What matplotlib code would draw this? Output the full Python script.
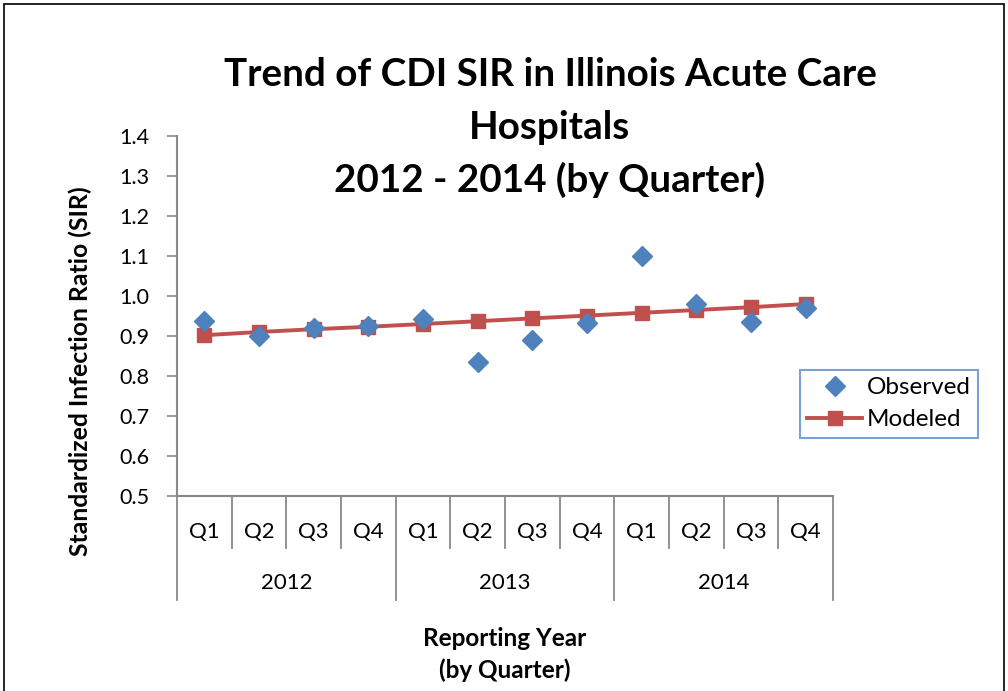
import matplotlib
matplotlib.use("Agg")
import matplotlib.pyplot as plt
from matplotlib.patches import Rectangle
from matplotlib.lines import Line2D
import matplotlib.transforms as mtransforms

plt.rcParams['font.family'] = ['Lato', 'DejaVu Sans']

quarters = ["Q1", "Q2", "Q3", "Q4"] * 3
years = ["2012", "2013", "2014"]
observed = [0.938, 0.901, 0.920, 0.925, 0.943, 0.834, 0.890, 0.933, 1.100, 0.981, 0.934, 0.970]
modeled = [0.902, 0.910, 0.917, 0.923, 0.930, 0.937, 0.944, 0.951, 0.958, 0.965, 0.972, 0.980]
yticks = [0.5, 0.6, 0.7, 0.8, 0.9, 1.0, 1.1, 1.2, 1.3, 1.4]

BLUE = "#4F81BD"
RED = "#C0504D"
GRAY = "#898989"

W, H = 1008, 691
fig = plt.figure(figsize=(W / 100, H / 100), dpi=100)
ax = fig.add_axes([177 / W, 1 - 496 / H, 656 / W, 360 / H])

x = list(range(len(observed)))
ax.plot(x, modeled, color=RED, lw=2.8, marker="s", ms=10.5, mec=RED, mfc=RED,
        label="Modeled", zorder=3)
ax.plot(x, observed, ls="none", marker="D", ms=9.8, mfc=BLUE, mec=BLUE,
        label="Observed", zorder=4)

ax.set_xlim(-0.5, len(x) - 0.5)
ax.set_ylim(0.5, 1.4)
ax.set_yticks(yticks)
ax.set_yticklabels([f"{v:.1f}" for v in yticks], fontsize=15.5)
ax.tick_params(axis="y", length=7, width=1.2, color=GRAY, direction="out", pad=13)
ax.set_xticks([])
for s in ["top", "right"]:
    ax.spines[s].set_visible(False)
for s in ["left", "bottom"]:
    ax.spines[s].set_color(GRAY)
    ax.spines[s].set_linewidth(1.5)

trans = mtransforms.blended_transform_factory(ax.transData, ax.transAxes)
ax_h = 360
for i in range(len(x) + 1):
    xb = i - 0.5
    bottom = -(600 - 496) / ax_h if i % 4 == 0 else -(548 - 496) / ax_h
    ax.add_line(Line2D([xb, xb], [0, bottom], transform=trans, color=GRAY,
                       lw=1.3, clip_on=False))
for i, q in enumerate(quarters):
    ax.text(i, -(532 - 496) / ax_h, q, transform=trans, ha="center", va="center",
            fontsize=16)
for j, yr in enumerate(years):
    ax.text(j * 4 + 1.5, -(583 - 496) / ax_h, yr, transform=trans, ha="center",
            va="center", fontsize=16)

fig.text(80 / W, 1 - 371 / H, "Standardized Infection Ratio (SIR)", rotation=90,
         ha="center", va="center", fontsize=17.8, fontweight="bold")
fig.text(505 / W, 1 - 638 / H, "Reporting Year", ha="center", va="center",
         fontsize=17.5, fontweight="bold")
fig.text(505 / W, 1 - 670 / H, "(by Quarter)", ha="center", va="center",
         fontsize=17.5, fontweight="bold")

title_lines = ["Trend of CDI SIR in Illinois Acute Care", "Hospitals",
               "2012 - 2014 (by Quarter)"]
for k, t in enumerate(title_lines):
    fig.text(550 / W, 1 - (75 + 52.5 * k) / H, t, ha="center", va="center",
             fontsize=27.8, fontweight="bold")

handles, labels = ax.get_legend_handles_labels()
leg = fig.legend(handles[::-1], labels[::-1], loc="upper left",
                 bbox_to_anchor=(800 / W, 1 - 370 / H), fontsize=17.5,
                 frameon=True, fancybox=False, borderpad=0.3, handlelength=2.25,
                 handletextpad=0.2, labelspacing=0.45, borderaxespad=0)
leg.get_frame().set_edgecolor("#5B8BC9")
leg.get_frame().set_linewidth(1.5)

fig.patches.append(Rectangle((4 / W, -0.01), (W - 8) / W, 1 - 4 / H + 0.01,
                             transform=fig.transFigure, fill=False,
                             edgecolor="black", lw=1.2))

fig.savefig("out.png", dpi=100, facecolor="white")
